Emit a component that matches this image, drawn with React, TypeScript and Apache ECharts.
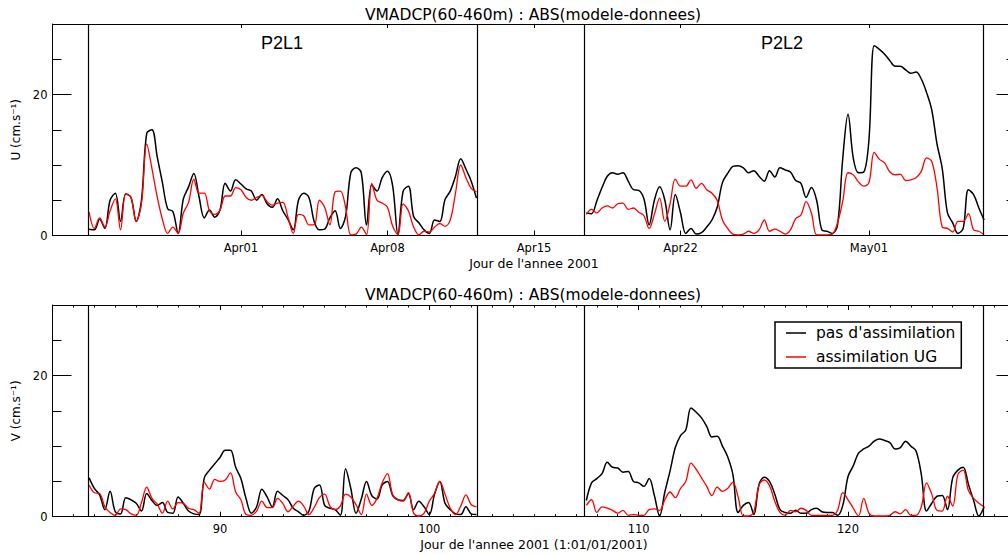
import React, { useEffect, useRef } from "react";
import * as echarts from "echarts";

// ---- axis / layout values ----
const xMin = 82;
const xMax = 128;
const step = 0.25;
const seg1Start = 83.75;
const seg2Start = 107.5;
const transectBounds = [83.72, 102.29, 107.39, 126.47];

const topTickDays = [91, 98, 105, 112, 121];
const topTickLabels = ["Apr01", "Apr08", "Apr15", "Apr22", "May01"];
const bottomTickDays = [90, 100, 110, 120];
const yMajorTicks = [0, 20];
const yMinorTicks = [5, 10, 15, 25];

const seriesNames = ["pas d'assimilation", "assimilation UG"];
const panelTitle = "VMADCP(60-460m) : ABS(modele-donnees)";
const sectionLabels = ["P2L1", "P2L2"];

// ---- U panel, P2L1 (days 83.75 .. 102.25, every 0.25 d) ----
const uNoAssimP2L1 = [
  0.9, 0.8, 2.3, 1.0, 5.0, 6.0, 2.0, 5.9, 5.4, 2.0, 5.0, 14.5, 15.0, 11.2, 7.5, 3.8,
  3.4, 0.3, 5.2, 6.9, 8.8, 5.5, 2.5, 3.6, 2.6, 3.6, 7.4, 6.3, 7.9, 7.3, 6.6, 6.3,
  5.0, 5.8, 4.5, 4.0, 5.2, 3.5, 2.3, 0.8, 5.0, 6.0, 5.4, 2.0, 0.8, 0.9, 2.5, 3.5,
  1.0, 2.7, 8.9, 9.6, 8.9, 1.5, 7.2, 6.3, 8.2, 9.1, 7.0, 0.2, 6.3, 7.0, 2.7, 1.8,
  0.8, 0.3, 2.2, 2.0, 5.1, 6.3, 8.4, 10.9, 9.4, 7.7, 5.3,
];
const uAssimP2L1 = [
  3.3, 1.0, 2.5, 1.2, 3.5, 5.2, 0.8, 5.9, 5.4, 2.0, 4.5, 13.0, 9.5, 5.5, 2.3, 0.3,
  1.2, 0.3, 3.2, 4.7, 8.0, 6.0, 6.0, 3.5, 3.0, 3.6, 5.6, 5.6, 6.8, 6.5, 5.4, 5.0,
  5.4, 5.7, 4.8, 4.3, 4.6, 4.7, 2.6, 0.3, 3.0, 2.8, 1.5, 1.5, 5.0, 4.0, 1.5, 6.2,
  6.3, 4.0, 0.1, 0.2, 1.2, 0.1, 7.4, 5.0, 4.6, 4.0, 1.3, 0.1, 4.5, 3.5, 1.2, 0.1,
  0.6, 0.5, 1.2, 1.7, 1.3, 2.2, 6.0, 10.0, 8.2, 6.7, 6.2,
];
// ---- U panel, P2L2 (days 107.5 .. 126.5) ----
const uNoAssimP2L2 = [
  3.2, 3.1, 4.9, 6.8, 8.4, 8.9, 8.7, 8.9, 7.7, 6.5, 6.4, 5.2, 1.5, 5.0, 6.9, 5.0,
  0.8, 5.8, 3.2, 0.3, 1.0, 0.2, 0.4, 1.2, 2.2, 4.0, 7.5, 8.8, 9.8, 9.9, 9.6, 8.9,
  9.2, 8.4, 7.7, 9.2, 8.3, 9.6, 9.3, 9.0, 7.8, 7.4, 5.4, 6.8, 5.0, 0.8, 0.6, 0.3,
  1.5, 11.0, 17.2, 11.0, 8.9, 9.0, 13.6, 26.9, 26.4, 25.7, 24.8, 24.0, 24.0, 23.5, 23.0, 23.2,
  22.2, 20.3, 17.8, 13.0, 9.5, 3.2, 1.8, 0.3, 1.0, 6.5, 5.8, 3.9, 2.2,
];
const uAssimP2L2 = [
  3.0, 3.7, 3.2, 3.9, 4.2, 3.9, 4.5, 4.6, 3.7, 3.9, 3.3, 2.8, 1.0, 3.0, 5.3, 2.0,
  4.5, 8.0, 7.0, 7.0, 7.9, 6.7, 7.4, 6.5, 6.0, 5.0, 2.2, 1.0, 0.2, 0.1, 0.2, 0.6,
  0.3, 0.8, 2.2, 0.6, 0.9, 0.6, 0.2, 0.8, 2.4, 2.9, 4.8, 3.2, 0.1, 0.1, 0.1, 0.2,
  1.8, 4.9, 8.9, 8.6, 7.6, 7.0, 7.5, 11.8, 10.8, 10.3, 9.0, 8.6, 8.7, 7.8, 7.9, 8.2,
  9.1, 11.0, 10.5, 6.8, 1.2, 1.0, 0.5, 2.0, 2.0, 3.1, 0.8, 0.6, 0.1,
];

// ---- V panel, P2L1 ----
const vNoAssimP2L1 = [
  5.5, 4.0, 3.1, 1.0, 3.6, 0.7, 0.4, 2.7, 2.4, 1.9, 0.8, 3.3, 2.3, 1.6, 2.0, 0.6,
  0.5, 2.8, 1.9, 0.8, 0.4, 0.3, 5.5, 6.6, 7.5, 8.4, 9.4, 9.4, 7.0, 5.4, 2.5, 0.5,
  1.4, 3.9, 2.8, 1.4, 3.6, 3.0, 2.4, 1.2, 0.7, 0.2, 0.8, 4.0, 4.5, 1.6, 1.2, 1.0,
  0.2, 6.8, 4.0, 0.5, 2.5, 5.0, 3.0, 2.5, 4.5, 5.0, 3.0, 2.4, 2.3, 3.3, 1.0, 2.2,
  1.4, 0.3, 3.2, 5.0, 1.9, 1.0, 0.4, 0.3, 1.4, 0.4, 0.3,
];
const vAssimP2L1 = [
  4.5, 3.4, 3.3, 1.4, 0.6, 0.2, 1.1, 1.0, 0.4, 0.2, 2.0, 4.2, 2.6, 1.8, 0.5, 2.2,
  1.1, 2.0, 1.9, 1.2, 1.0, 0.5, 4.9, 3.9, 5.3, 5.0, 5.2, 6.2, 3.5, 2.4, 0.3, 0.2,
  0.8, 2.2, 1.3, 1.3, 2.6, 1.9, 0.7, 1.5, 2.2, 1.5, 0.3, 1.3, 2.7, 3.2, 1.5, 1.0,
  1.5, 3.2, 2.8, 1.7, 0.3, 3.2, 1.6, 2.6, 4.8, 6.1, 3.1, 2.4, 2.2, 3.4, 0.5, 0.1,
  0.5, 2.2, 3.3, 5.0, 3.2, 1.2, 0.3, 1.5, 3.1, 1.7, 1.4,
];
// ---- V panel, P2L2 ----
const vNoAssimP2L2 = [
  2.3, 4.8, 5.4, 6.1, 7.7, 7.0, 6.9, 6.3, 6.4, 5.0, 4.8, 4.3, 5.4, 3.0, 0.1, 3.5,
  6.5, 9.8, 11.5, 12.3, 15.4, 14.8, 14.0, 12.8, 11.3, 11.4, 10.0, 8.5, 6.0, 0.6, 1.6, 2.0,
  0.3, 4.6, 5.6, 5.0, 3.2, 1.0, 0.6, 0.5, 0.9, 0.5, 0.5, 1.0, 1.2, 0.7, 0.6, 0.6,
  0.2, 1.6, 5.7, 7.2, 9.0, 9.6, 10.0, 10.7, 11.0, 10.8, 10.5, 9.6, 9.8, 10.7, 10.0, 9.3,
  6.0, 0.8, 1.9, 2.9, 3.0, 1.0, 5.5, 6.6, 7.0, 4.6, 2.3, 0.1, 1.4,
];
const vAssimP2L2 = [
  1.6, 2.4, 0.6, 1.4, 1.2, 0.9, 0.5, 0.9, 0.2, 0.3, 0.2, 0.2, 1.0, 1.1, 0.9, 2.4,
  3.5, 2.7, 4.0, 5.0, 7.6, 6.7, 5.5, 4.3, 3.0, 4.2, 3.6, 4.0, 4.9, 2.8, 0.1, 0.1,
  0.7, 4.5, 5.2, 4.4, 2.2, 0.6, 0.2, 0.9, 0.7, 1.2, 0.9, 0.2, 0.2, 0.2, 0.2, 0.2,
  0.9, 3.4, 2.4, 1.2, 0.1, 2.6, 0.5, 0.1, 0.1, 0.1, 0.2, 0.7, 0.4, 1.0, 0.2, 0.2,
  1.4, 4.8, 3.2, 0.9, 0.8, 2.9, 1.5, 6.0, 6.6, 3.7, 2.6, 1.9, 1.4,
];

const FONT = "DejaVu Sans";

function toPoints(seg1: number[], seg2: number[]) {
  const pts: any[] = [];
  seg1.forEach((v, i) => pts.push([seg1Start + i * step, v]));
  pts.push([(transectBounds[1] + transectBounds[2]) / 2, "-"]);
  seg2.forEach((v, i) => pts.push([seg2Start + i * step, v]));
  return pts;
}

const minorDays: number[] = [];
for (let d = xMin + 1; d < xMax; d++) minorDays.push(d);

function xAxis(grid: number, position: string, ticks: number[], len: number, opts: any = {}) {
  return {
    type: "value",
    gridIndex: grid,
    position,
    min: xMin,
    max: xMax,
    axisLine: { show: true, onZero: false, lineStyle: { color: "#000", width: 1 } },
    axisTick: { show: true, inside: true, length: len, customValues: ticks, lineStyle: { color: "#000", width: 1 } },
    axisLabel: { show: false },
    splitLine: { show: false },
    ...opts,
  };
}

function yAxis(grid: number, position: string, ticks: number[], len: number, opts: any = {}) {
  return {
    type: "value",
    gridIndex: grid,
    position,
    min: 0,
    max: 30,
    axisLine: { show: true, onZero: false, lineStyle: { color: "#000", width: 1 } },
    axisTick: { show: true, inside: true, length: len, customValues: ticks, lineStyle: { color: "#000", width: 1 } },
    axisLabel: { show: false },
    splitLine: { show: false },
    ...opts,
  };
}

const labelStyle = { fontSize: 11.5, fontFamily: FONT, color: "#000" };
const nameStyle = { fontSize: 12.5, fontFamily: FONT, color: "#000" };

function yMain(grid: number, name: string) {
  return yAxis(grid, "left", yMajorTicks, 19, {
    axisLabel: { show: true, customValues: yMajorTicks, margin: 5, ...labelStyle },
    name,
    nameLocation: "middle",
    nameRotate: 90,
    nameGap: 26,
    nameTextStyle: { fontSize: 12, fontFamily: FONT, color: "#000" },
  });
}

function boundaryLines() {
  return {
    silent: true,
    symbol: ["none", "none"],
    label: { show: false },
    lineStyle: { color: "#000", width: 1.2, type: "solid" },
    emphasis: { disabled: true },
    data: transectBounds.map((d) => ({ xAxis: d })),
  };
}

function lineSeries(name: string, color: string, width: number, x: number, y: number, data: any[], mark: boolean) {
  const s: any = {
    type: "line",
    name,
    xAxisIndex: x,
    yAxisIndex: y,
    data,
    symbol: "none",
    smooth: 0.35,
    connectNulls: false,
    lineStyle: { color, width },
    itemStyle: { color },
    emphasis: { disabled: true },
  };
  if (mark) s.markLine = boundaryLines();
  return s;
}

export default function App() {
  const ref = useRef<HTMLDivElement>(null);
  useEffect(() => {
    if (!ref.current) return;
    const chart = echarts.init(ref.current, null, { renderer: "svg" });
    const option: any = {
      animation: false,
      backgroundColor: "#fff",
      grid: [
        { left: 52.5, top: 24, width: 963, height: 211.5, containLabel: false, outerBoundsMode: "none" },
        { left: 52.5, top: 305, width: 963, height: 211.7, containLabel: false, outerBoundsMode: "none" },
      ],
      xAxis: [
        xAxis(0, "bottom", topTickDays, 5, {
          axisLabel: {
            show: true,
            customValues: topTickDays,
            margin: 6,
            formatter: (v: number) => topTickLabels[topTickDays.indexOf(Math.round(v))] ?? "",
            ...labelStyle,
          },
          name: "Jour de l'annee 2001",
          nameLocation: "middle",
          nameGap: 21,
          nameTextStyle: nameStyle,
        }),
        xAxis(0, "top", topTickDays, 4),
        xAxis(1, "bottom", bottomTickDays, 5, {
          axisLabel: { show: true, customValues: bottomTickDays, margin: 6, ...labelStyle },
          name: "Jour de l'annee 2001 (1:01/01/2001)",
          nameLocation: "middle",
          nameGap: 21.5,
          nameTextStyle: nameStyle,
        }),
        xAxis(1, "bottom", minorDays, 2.5, { axisLine: { show: false, onZero: false } }),
        xAxis(1, "top", bottomTickDays, 5),
        xAxis(1, "top", minorDays, 2.5, { axisLine: { show: false, onZero: false } }),
      ],
      yAxis: [
        yMain(0, "U (cm.s⁻¹)"),
        yAxis(0, "left", yMinorTicks, 9, { axisLine: { show: false, onZero: false } }),
        yAxis(0, "right", yMajorTicks, 19),
        yAxis(0, "right", yMinorTicks, 9, { axisLine: { show: false, onZero: false } }),
        yMain(1, "V (cm.s⁻¹)"),
        yAxis(1, "left", yMinorTicks, 9, { axisLine: { show: false, onZero: false } }),
        yAxis(1, "right", yMajorTicks, 19),
        yAxis(1, "right", yMinorTicks, 9, { axisLine: { show: false, onZero: false } }),
      ],
      legend: {
        show: true,
        orient: "vertical",
        left: 775,
        top: 322,
        data: seriesNames,
        icon: "rect",
        itemWidth: 20,
        itemHeight: 1.5,
        itemGap: 6,
        padding: [2, 6, 2, 11],
        borderColor: "#000",
        borderWidth: 1.5,
        borderRadius: 0,
        backgroundColor: "#fff",
        selectedMode: false,
        textStyle: { fontSize: 15.5, fontFamily: FONT, color: "#000", lineHeight: 18, padding: [0, 0, 0, 5] },
      },
      series: [
        lineSeries(seriesNames[0], "#000000", 1.5, 0, 0, toPoints(uNoAssimP2L1, uNoAssimP2L2), true),
        lineSeries(seriesNames[1], "#ff0000", 1.3, 0, 0, toPoints(uAssimP2L1, uAssimP2L2), false),
        lineSeries(seriesNames[0], "#000000", 1.5, 2, 4, toPoints(vNoAssimP2L1, vNoAssimP2L2), true),
        lineSeries(seriesNames[1], "#ff0000", 1.3, 2, 4, toPoints(vAssimP2L1, vAssimP2L2), false),
      ],
      graphic: [
        { type: "text", x: 533, y: 15, style: { text: panelTitle, textAlign: "center", textVerticalAlign: "middle", fontSize: 15.5, fontFamily: FONT, fill: "#000" } },
        { type: "text", x: 533, y: 295, style: { text: panelTitle, textAlign: "center", textVerticalAlign: "middle", fontSize: 15.5, fontFamily: FONT, fill: "#000" } },
        { type: "text", x: 282, y: 43, style: { text: sectionLabels[0], textAlign: "center", textVerticalAlign: "middle", fontSize: 18, fontFamily: "Liberation Sans", fill: "#000" } },
        { type: "text", x: 782, y: 43, style: { text: sectionLabels[1], textAlign: "center", textVerticalAlign: "middle", fontSize: 18, fontFamily: "Liberation Sans", fill: "#000" } },
      ],
    };
    chart.setOption(option);
    return () => chart.dispose();
  }, []);
  return (
    <div style={{ position: "absolute", left: 0, top: 0, width: 1008, height: 555, overflow: "hidden", background: "#fff" }}>
      <div ref={ref} style={{ width: 1030, height: 555 }} />
    </div>
  );
}
